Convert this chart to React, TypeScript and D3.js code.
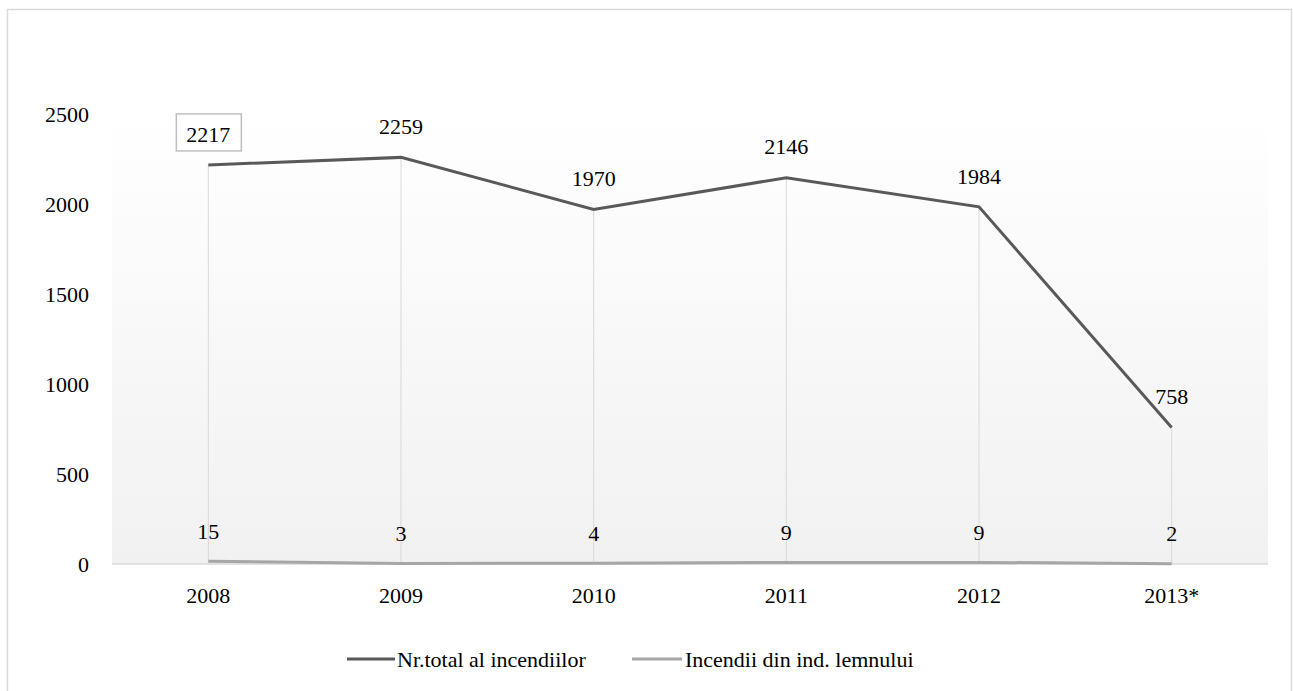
import * as d3 from "d3";

const years = ["2008", "2009", "2010", "2011", "2012", "2013*"];
const totalFires = [2217, 2259, 1970, 2146, 1984, 758];
const woodFires = [15, 3, 4, 9, 9, 2];
const yTicks = [0, 500, 1000, 1500, 2000, 2500];
const seriesNames = ["Nr.total al incendiilor", "Incendii din ind. lemnului"];

const W = 1293;
const H = 691;
const FONT = '"Liberation Serif", "Times New Roman", Times, serif';
const FS = 22;

const App = () => {
  const left = 112;
  const right = 1268;
  const top = 114;
  const bottom = 564;

  const x = d3.scaleBand<string>().domain(years).range([left, right]);
  const cx = (d: string) => (x(d) ?? 0) + x.bandwidth() / 2;
  const y = d3.scaleLinear().domain([0, 2500]).range([bottom, top]);

  const line = d3
    .line<number>()
    .x((_, i) => cx(years[i]))
    .y((d) => y(d));

  const txt = { fontFamily: FONT, fontSize: FS, fill: "#000" };

  return (
    <svg
      width={W}
      height={H}
      style={{ position: "absolute", left: 0, top: 0, fontFamily: FONT }}
    >
      <defs>
        <linearGradient id="plotBg" x1="0" y1="0" x2="0" y2="1">
          <stop offset="0" stopColor="#ffffff" />
          <stop offset="1" stopColor="#f1f1f1" />
        </linearGradient>
      </defs>
      <rect width={W} height={H} fill="#fff" />
      <rect
        x={7.5}
        y={9.5}
        width={1284}
        height={700}
        fill="none"
        stroke="#d9d9d9"
        strokeWidth={1.5}
      />
      <rect
        x={left}
        y={top}
        width={right - left}
        height={bottom - top}
        fill="url(#plotBg)"
      />

      {/* drop lines */}
      {totalFires.map((v, i) => (
        <line
          key={i}
          x1={cx(years[i])}
          x2={cx(years[i])}
          y1={y(v)}
          y2={bottom}
          stroke="#d9d9d9"
          strokeWidth={1}
        />
      ))}

      <line x1={left} x2={right} y1={bottom} y2={bottom} stroke="#d9d9d9" strokeWidth={1.5} />

      {yTicks.map((t) => (
        <text key={t} x={89} y={y(t)} dy="0.35em" textAnchor="end" style={txt}>
          {t}
        </text>
      ))}

      {years.map((yr) => (
        <text key={yr} x={cx(yr)} y={595} dy="0.35em" textAnchor="middle" style={txt}>
          {yr}
        </text>
      ))}

      <path d={line(woodFires) ?? ""} fill="none" stroke="#a6a6a6" strokeWidth={3} />
      <path d={line(totalFires) ?? ""} fill="none" stroke="#595959" strokeWidth={3} />

      {totalFires.map((v, i) => (
        <g key={i}>
          {i === 0 && (
            <rect
              x={cx(years[i]) - 32}
              y={y(v) - 51}
              width={65}
              height={37}
              fill="#fff"
              stroke="#bfbfbf"
              strokeWidth={1.5}
            />
          )}
          <text x={cx(years[i])} y={y(v) - 31} dy="0.35em" textAnchor="middle" style={txt}>
            {v}
          </text>
        </g>
      ))}

      {woodFires.map((v, i) => (
        <text key={i} x={cx(years[i])} y={y(v) - 30} dy="0.35em" textAnchor="middle" style={txt}>
          {v}
        </text>
      ))}

      {/* legend */}
      <g>
        <line x1={347} x2={395} y1={659} y2={659} stroke="#595959" strokeWidth={3} />
        <text x={397} y={659} dy="0.35em" style={txt}>
          {seriesNames[0]}
        </text>
        <line x1={632} x2={682} y1={659} y2={659} stroke="#a6a6a6" strokeWidth={3} />
        <text x={685} y={659} dy="0.35em" style={txt}>
          {seriesNames[1]}
        </text>
      </g>
    </svg>
  );
};

export default App;
